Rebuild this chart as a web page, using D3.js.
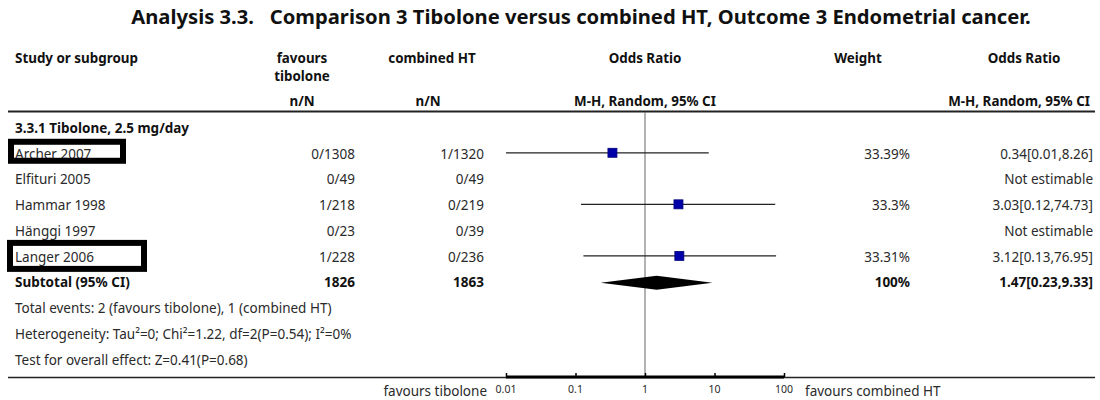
<!DOCTYPE html>
<html>
<head>
<meta charset="utf-8">
<script src="https://cdn.jsdelivr.net/npm/d3@7"></script>
<style>
  html, body { margin: 0; padding: 0; background: #fff; }
  svg text { font-family: "Noto Sans", "Open Sans", sans-serif; fill: #2a2a2a; }
</style>
</head>
<body>
<svg id="chart" width="1100" height="400"></svg>
<script>
// Study-level data
const studies   = ["Archer 2007", "Elfituri 2005", "Hammar 1998", "Hänggi 1997", "Langer 2006"];
const eventsTib = [0, 0, 1, 0, 1];
const totalTib  = [1308, 49, 218, 23, 228];
const eventsHT  = [1, 0, 0, 0, 0];
const totalHT   = [1320, 49, 219, 39, 236];
const weightLabels = ["33.39%", "", "33.3%", "", "33.31%"];
const orEst     = [0.34, null, 3.03, null, 3.12];
const orLow     = [0.01, null, 0.12, null, 0.13];
const orHigh    = [8.26, null, 74.73, null, 76.95];

// Pooled result
const subtotalTib = 1826;
const subtotalHT = 1863;
const pooledEst = 1.47;
const pooledLow = 0.23;
const pooledHigh = 9.33;

const axisTicks = [0.01, 0.1, 1, 10, 100];
const footnotes = [
  "Total events: 2 (favours tibolone), 1 (combined HT)",
  "Heterogeneity: Tau²=0; Chi²=1.22, df=2(P=0.54); I²=0%",
  "Test for overall effect: Z=0.41(P=0.68)"
];
const highlighted = ["Archer 2007", "Langer 2006"];

const svg = d3.select("#chart");

// Scales
const x = d3.scaleLog().domain([0.01, 100]).range([506, 784]);
const row = d3.scaleLinear().domain([0, 9]).range([128, 360]);

const fmtCI = (e, l, h) => `${e}[${l},${h}]`;

// Title
svg.append("text")
  .attr("x", 581).attr("y", 24)
  .attr("text-anchor", "middle")
  .attr("font-size", 20.2).attr("font-weight", "bold")
  .style("fill", "#111")
  .style("white-space", "pre")
  .text("Analysis 3.3.   Comparison 3 Tibolone versus combined HT, Outcome 3 Endometrial cancer.");

// Column headers
const hdr = svg.append("g").attr("font-size", 13.4).attr("font-weight", "bold");
const head = (t, xx, yy, anchor) => hdr.append("text").attr("x", xx).attr("y", yy)
  .attr("text-anchor", anchor).style("fill", "#111").text(t);
head("Study or subgroup", 15, 63, "start");
head("favours", 302, 63, "middle");
head("tibolone", 302, 81, "middle");
head("combined HT", 432, 63, "middle");
head("Odds Ratio", 645, 63, "middle");
head("Weight", 858, 63, "middle");
head("Odds Ratio", 1024, 63, "middle");
head("n/N", 302, 106, "middle");
head("n/N", 428, 106, "middle");
head("M-H, Random, 95% CI", 645, 106, "middle");
head("M-H, Random, 95% CI", 1090, 106, "end");

// Header rule
svg.append("line").attr("x1", 8).attr("x2", 1095).attr("y1", 111.5).attr("y2", 111.5)
  .attr("stroke", "#222").attr("stroke-width", 2);

// Line of no effect
svg.append("line").attr("x1", x(1)).attr("x2", x(1)).attr("y1", 112).attr("y2", 377)
  .attr("stroke", "#666").attr("stroke-width", 1);

const body = svg.append("g").attr("font-size", 13.5);

// Subgroup heading
body.append("text").attr("x", 15).attr("y", row(0)).attr("dy", "0.35em")
  .attr("font-weight", "bold").style("fill", "#111")
  .text("3.3.1 Tibolone, 2.5 mg/day");

// Study rows
const rows = body.selectAll("g.study").data(studies.map((s, i) => ({
  name: s, et: eventsTib[i], nt: totalTib[i], ec: eventsHT[i], nc: totalHT[i],
  wl: weightLabels[i], est: orEst[i], lo: orLow[i], hi: orHigh[i], i
}))).join("g").attr("class", "study")
  .attr("transform", d => `translate(0,${row(d.i + 1)})`);

rows.append("text").attr("x", 15).attr("dy", "0.35em").text(d => d.name);
rows.append("text").attr("x", 355).attr("dy", "0.35em").attr("text-anchor", "end")
  .text(d => `${d.et}/${d.nt}`);
rows.append("text").attr("x", 484).attr("dy", "0.35em").attr("text-anchor", "end")
  .text(d => `${d.ec}/${d.nc}`);
rows.append("text").attr("x", 910).attr("dy", "0.35em").attr("text-anchor", "end")
  .text(d => d.wl);
rows.append("text").attr("x", 1093).attr("dy", "0.35em").attr("text-anchor", "end")
  .text(d => d.est == null ? "Not estimable" : fmtCI(d.est, d.lo, d.hi));

const est = rows.filter(d => d.est != null);
est.append("line")
  .attr("x1", d => x(d.lo)).attr("x2", d => x(d.hi))
  .attr("y1", -1).attr("y2", -1)
  .attr("stroke", "#222").attr("stroke-width", 1.2);
est.append("rect")
  .attr("x", d => x(d.est) - 4.5).attr("y", -5.5)
  .attr("width", 9).attr("height", 9)
  .attr("fill", "#0000a8").attr("stroke", "#00007a").attr("stroke-width", 0.8);

// Subtotal row
const sub = body.append("g").attr("transform", `translate(0,${row(6)})`)
  .attr("font-weight", "bold");
sub.append("text").attr("x", 15).attr("dy", "0.35em").style("fill", "#111").text("Subtotal (95% CI)");
sub.append("text").attr("x", 355).attr("dy", "0.35em").attr("text-anchor", "end").style("fill", "#111").text(subtotalTib);
sub.append("text").attr("x", 484).attr("dy", "0.35em").attr("text-anchor", "end").style("fill", "#111").text(subtotalHT);
sub.append("text").attr("x", 910).attr("dy", "0.35em").attr("text-anchor", "end").style("fill", "#111").text("100%");
sub.append("text").attr("x", 1093).attr("dy", "0.35em").attr("text-anchor", "end").style("fill", "#111")
  .text(fmtCI(pooledEst, pooledLow, pooledHigh));
sub.append("path")
  .attr("d", d3.line()([
    [x(pooledLow), 0], [x(pooledEst), -7], [x(pooledHigh), 0], [x(pooledEst), 7]
  ]) + "Z")
  .attr("fill", "#000");

// Footnotes
body.selectAll("text.foot").data(footnotes).join("text").attr("class", "foot")
  .attr("x", 15).attr("y", (d, i) => row(7 + i)).attr("dy", "0.35em")
  .text(d => d);

// Bottom rule and axis
svg.append("line").attr("x1", 8).attr("x2", 1095).attr("y1", 377.5).attr("y2", 377.5)
  .attr("stroke", "#222").attr("stroke-width", 1.5);

const axisG = svg.append("g").attr("transform", "translate(0,377)");
axisG.call(d3.axisTop(x).tickValues(axisTicks).tickSize(4).tickFormat(() => ""));
axisG.select(".domain").attr("stroke", "#000").attr("stroke-width", 3).attr("d", `M${x(0.01)},0H${x(100)}`);
axisG.selectAll(".tick line").attr("stroke", "#000").attr("stroke-width", 1.5);

svg.append("g").attr("font-size", 10.5).selectAll("text").data(axisTicks).join("text")
  .attr("x", d => x(d)).attr("y", 393).attr("text-anchor", "middle")
  .text(d => d3.format("~g")(d));

svg.append("text").attr("x", 487).attr("y", 396).attr("text-anchor", "end")
  .attr("font-size", 13.5).text("favours tibolone");
svg.append("text").attr("x", 805).attr("y", 396).attr("text-anchor", "start")
  .attr("font-size", 13.5).text("favours combined HT");

// Highlight boxes around selected study names (offsets relative to the row centre)
const hlBoxes = [
  { name: highlighted[0], x: 11, top: -12, w: 112, h: 19 },
  { name: highlighted[1], x: 10, top: -14, w: 134, h: 26 }
];
svg.append("g").selectAll("rect").data(hlBoxes).join("rect")
  .attr("x", d => d.x)
  .attr("y", d => row(studies.indexOf(d.name) + 1) + d.top)
  .attr("width", d => d.w)
  .attr("height", d => d.h)
  .attr("fill", "none").attr("stroke", "#000").attr("stroke-width", 6);
</script>
</body>
</html>
